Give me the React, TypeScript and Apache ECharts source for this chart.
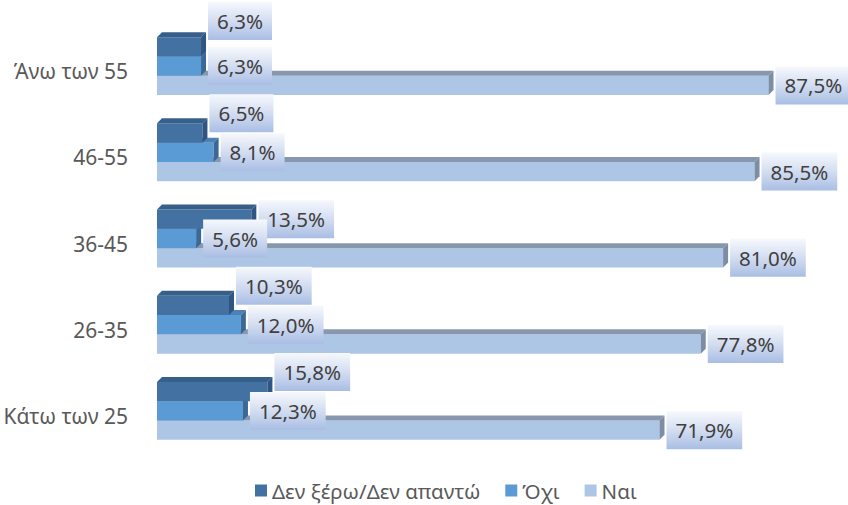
import React, { useEffect, useRef } from "react";
import * as echarts from "echarts";

const categories = ["Άνω των 55", "46-55", "36-45", "26-35", "Κάτω των 25"];
const seriesNames = ["Δεν ξέρω/Δεν απαντώ", "Όχι", "Ναι"];
const dontKnow = [6.3, 6.5, 13.5, 10.3, 15.8];
const no = [6.3, 8.1, 5.6, 12.0, 12.3];
const yes = [87.5, 85.5, 81.0, 77.8, 71.9];
const seriesValues = [dontKnow, no, yes];

const FONT = '"Noto Sans", sans-serif';
const VAL_FONT_SIZE = 20.5;
const CAT_FONT_SIZE = 21;
const LEG_FONT_SIZE = 20.5;
const fronts = ["#4371a2", "#5b9bd5", "#adc6e5"];
const tops = ["#365f8a", "#4a82b6", "#8798ae"];
const sides = ["#2f5580", "#3b6896", "#7c8ea6"];
const D = 5;
const BOX_H = 38;
const PAD_X = 9;

let measureCtx: CanvasRenderingContext2D | null = null;
function textWidth(t: string): number {
  if (!measureCtx) {
    measureCtx = document.createElement("canvas").getContext("2d");
  }
  if (!measureCtx) return t.length * 11;
  measureCtx.font = `${VAL_FONT_SIZE}px ${FONT}`;
  return measureCtx.measureText(t).width;
}
const fmt = (v: number) => v.toFixed(1).replace(".", ",") + "%";

function makeRender(k: number) {
  return (params: any, api: any) => {
    const v = api.value(0);
    const ci = api.value(1);
    const base = api.coord([0, ci]);
    const band = api.size([0, 1])[1];
    const h = band * 0.224;
    const off = [-1.5, -0.5, 0.5][k];
    const y = base[1] + off * h;
    const x0 = base[0];
    const x1 = api.coord([v, ci])[0];

    const label = fmt(v);
    const bw = textWidth(label) + PAD_X * 2;
    const bx = x1 + D + 2;
    let cy = y + h / 2;
    if (k === 0) {
      const mv = no[ci];
      const mx1 = api.coord([mv, ci])[0];
      const mbx = mx1 + D + 2;
      const mbw = textWidth(fmt(mv)) + PAD_X * 2;
      const overlap = Math.min(bx + bw, mbx + mbw) - Math.max(bx, mbx);
      if (overlap > 30) {
        const medCenter = base[1];
        cy = medCenter - BOX_H - (overlap > mbw - 5 ? 7 : 1);
      }
    }
    const by = cy - BOX_H / 2;

    return {
      type: "group",
      children: [
        {
          type: "rect",
          shape: { x: x0, y, width: x1 - x0, height: h },
          style: { fill: fronts[k] },
        },
        {
          type: "polygon",
          shape: { points: [[x0, y], [x0 + D, y - D], [x1 + D, y - D], [x1, y]] },
          style: { fill: tops[k] },
        },
        {
          type: "polygon",
          shape: { points: [[x1, y], [x1 + D, y - D], [x1 + D, y + h - D], [x1, y + h]] },
          style: { fill: sides[k] },
        },
        {
          type: "rect",
          z2: 100 + k,
          shape: { x: bx, y: by, width: bw, height: BOX_H },
          style: {
            fill: new echarts.graphic.LinearGradient(0, 0, 0, 1, [
              { offset: 0, color: "#f6f8fc" },
              { offset: 0.5, color: "#d3ddf1" },
              { offset: 1, color: "#a9bee4" },
            ]),
          },
        },
        {
          type: "text",
          z2: 100 + k,
          style: {
            x: bx + bw / 2,
            y: cy,
            text: label,
            align: "center",
            verticalAlign: "middle",
            fontSize: VAL_FONT_SIZE,
            fontFamily: FONT,
            fill: "#404040",
          },
        },
      ],
    };
  };
}

export default function App() {
  const ref = useRef<HTMLDivElement>(null);
  useEffect(() => {
    if (!ref.current) return;
    const chart = echarts.init(ref.current, null, { renderer: "svg" });
    const drawOrder = [2, 1, 0];
    chart.setOption({
      animation: false,
      backgroundColor: "#ffffff",
      grid: { left: 157, right: 62, top: 23, bottom: 51, containLabel: false },
      legend: {
        data: seriesNames.map((n, i) => ({ name: n, itemStyle: { color: fronts[i] } })),
        left: 255,
        top: 480,
        padding: 0,
        itemWidth: 12,
        itemHeight: 12,
        itemGap: 25,
        icon: "rect",
        textStyle: {
          fontSize: LEG_FONT_SIZE,
          lineHeight: 20,
          fontFamily: FONT,
          color: "#595959",
        },
      },
      xAxis: {
        type: "value",
        min: 0,
        max: 90,
        show: false,
        splitLine: { show: false },
      },
      yAxis: {
        type: "category",
        data: categories,
        inverse: true,
        axisLine: { show: false },
        axisTick: { show: false },
        axisLabel: {
          margin: 29,
          formatter: (v: string) => `{a|${v}}`,
          rich: {
            a: {
              fontSize: CAT_FONT_SIZE,
              fontFamily: FONT,
              color: "#595959",
              padding: [10, 0, 0, 0],
            },
          },
        },
      },
      series: drawOrder.map((k) => ({
        type: "custom",
        name: seriesNames[k],
        itemStyle: { color: fronts[k] },
        encode: { x: 0, y: 1 },
        data: seriesValues[k].map((v, i) => [v, i]),
        renderItem: makeRender(k),
      })),
    });
    return () => chart.dispose();
  }, []);
  return (
    <div
      ref={ref}
      style={{ position: "fixed", left: 0, top: 0, width: 848, height: 505 }}
    />
  );
}
